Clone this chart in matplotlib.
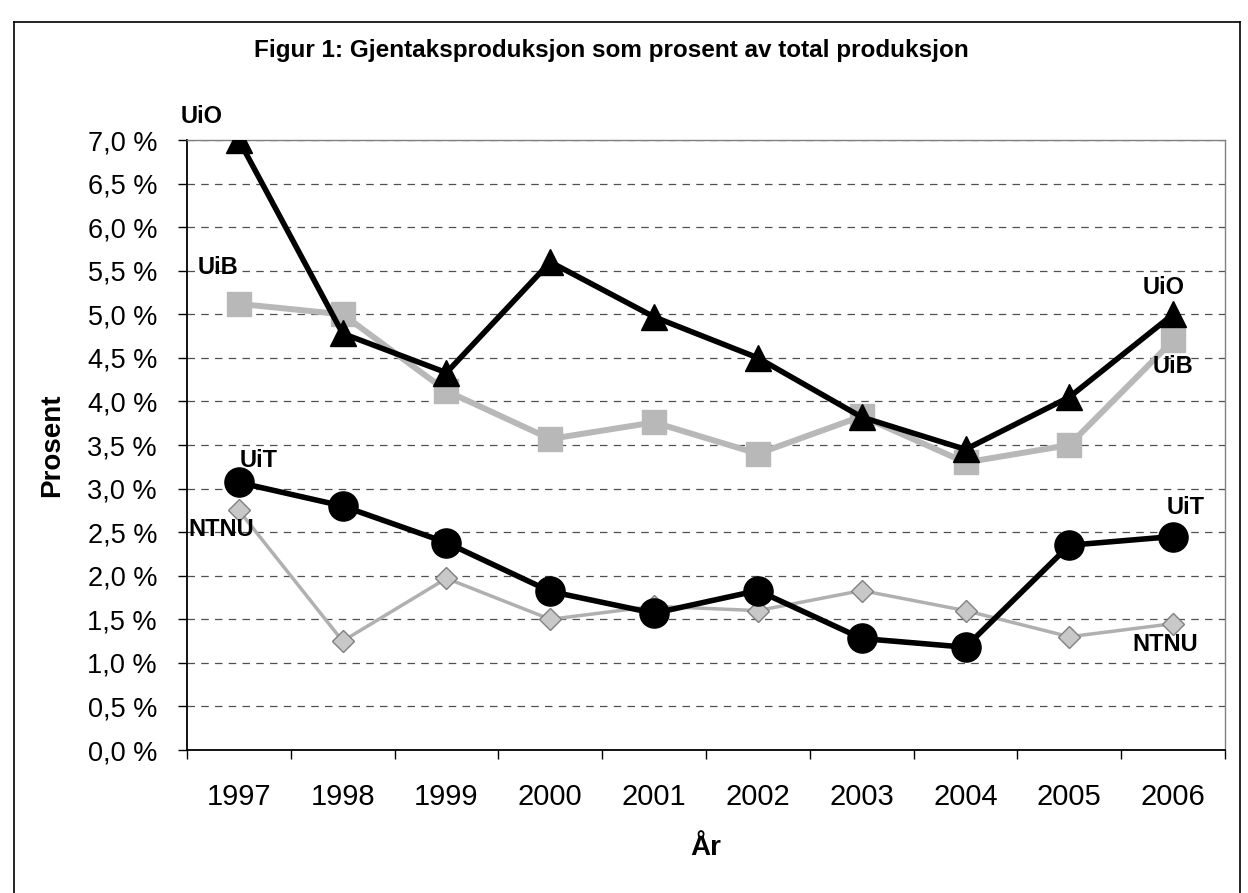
import matplotlib.pyplot as plt
from matplotlib.lines import Line2D

plt.rcParams['font.family'] = ['Liberation Sans', 'DejaVu Sans']

# data (prosent)
years = ['1997', '1998', '1999', '2000', '2001', '2002', '2003', '2004', '2005', '2006']
uio = [7.0, 4.78, 4.33, 5.6, 4.97, 4.5, 3.82, 3.45, 4.05, 5.0]
uib = [5.12, 5.0, 4.12, 3.57, 3.76, 3.4, 3.83, 3.3, 3.5, 4.7]
uit = [3.07, 2.8, 2.38, 1.82, 1.57, 1.83, 1.28, 1.18, 2.35, 2.45]
ntnu = [2.75, 1.25, 1.97, 1.5, 1.65, 1.6, 1.83, 1.6, 1.3, 1.45]
yticks = [0.0, 0.5, 1.0, 1.5, 2.0, 2.5, 3.0, 3.5, 4.0, 4.5, 5.0, 5.5, 6.0, 6.5, 7.0]

fig = plt.figure(figsize=(12.48, 8.93), dpi=100)
ax = fig.add_axes([0.1498, 0.1601, 0.8318, 0.6831])

x = list(range(len(years)))

ax.plot(x, ntnu, color='#b0b0b0', lw=2.5, marker='D', ms=11,
        mfc='#c8c8c8', mec='#808080', mew=1.0, zorder=3)
ax.plot(x, uib, color='#b8b8b8', lw=4.3, marker='s', ms=17,
        mfc='#b8b8b8', mec='#b8b8b8', zorder=3)
ax.plot(x, uit, color='black', lw=4, marker='o', ms=21, zorder=4)
ax.plot(x, uio, color='black', lw=4, marker='^', ms=19, zorder=5)

# serie-etiketter (forskyvning i punkter fra datapunktet)
lab = dict(fontsize=17, fontweight='bold', color='black', ha='center', va='center',
           textcoords='offset points', zorder=6)
ax.annotate('UiO', (0, uio[0]), xytext=(-27, 17), **lab)
ax.annotate('UiB', (0, uib[0]), xytext=(-15, 26), **lab)
ax.annotate('UiT', (0, uit[0]), xytext=(14, 16), **lab)
ax.annotate('NTNU', (0, ntnu[0]), xytext=(-13, -14), **lab)
ax.annotate('UiO', (9, uio[9]), xytext=(-7, 19), **lab)
ax.annotate('UiB', (9, uib[9]), xytext=(0, -19), **lab)
ax.annotate('UiT', (9, uit[9]), xytext=(9, 21), **lab)
ax.annotate('NTNU', (9, ntnu[9]), xytext=(-6, -15), **lab)

ax.set_xlim(-0.5, len(years) - 0.5)
ax.set_ylim(0, 7.0)

# kategorigrenser som hovedmerker, årstall som underetiketter
ax.set_xticks([i - 0.5 for i in range(len(years) + 1)])
ax.set_xticklabels([])
ax.set_xticks(x, minor=True)
ax.set_xticklabels(years, minor=True, fontsize=21)
ax.tick_params(axis='x', which='major', direction='out', length=6.5, width=1)
ax.tick_params(axis='x', which='minor', length=0, pad=24)

ax.set_yticks(yticks)
ax.set_yticklabels([f'{v:.1f} %'.replace('.', ',') for v in yticks], fontsize=19.5)
ax.tick_params(axis='y', direction='out', length=6.5, width=1, pad=15)

ax.grid(axis='y', color='#505050', linestyle=(0, (6, 5)), linewidth=0.9)
ax.set_axisbelow(True)

for s in ['left', 'bottom']:
    ax.spines[s].set_color('black')
    ax.spines[s].set_linewidth(1.3)
for s in ['top', 'right']:
    ax.spines[s].set_color('#808080')
    ax.spines[s].set_linewidth(1.0)

ax.set_ylabel('Prosent', fontsize=20, fontweight='bold', labelpad=16)
ax.set_xlabel('År', fontsize=20, fontweight='bold', labelpad=17)

fig.text(611 / 1248, 1 - 50 / 893, 'Figur 1: Gjentaksproduksjon som prosent av total produksjon',
         ha='center', va='center', fontsize=17.5, fontweight='bold')

# ramme rundt figuren
l, r, t = 14 / 1248, 1240 / 1248, 1 - 22 / 893
for xs, ys in [([l, r], [t, t]), ([l, l], [0, t]), ([r, r], [0, t])]:
    fig.add_artist(Line2D(xs, ys, color='black', lw=1.2, transform=fig.transFigure))

fig.savefig('out.png', dpi=100)
